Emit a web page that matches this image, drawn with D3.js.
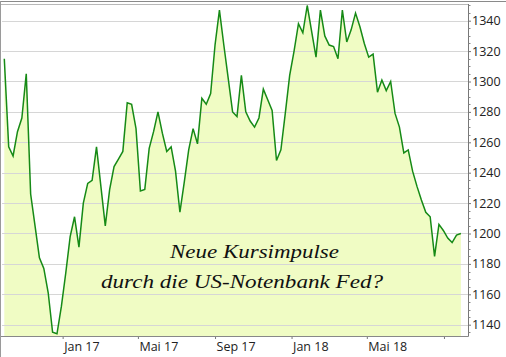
<!DOCTYPE html>
<html>
<head>
<meta charset="utf-8">
<script src="https://cdn.jsdelivr.net/npm/d3@7"></script>
<style>
  html, body { margin: 0; padding: 0; background: #fff; }
  svg { display: block; }
</style>
</head>
<body>
<svg id="chart" width="506" height="357"></svg>
<script>
// ---- data (weekly closes) ----
const startDate = "2016-09-30";
const values = [
  1315, 1257, 1251, 1267, 1276, 1305, 1226, 1205, 1184, 1177,
  1161, 1135, 1134, 1152, 1174, 1198, 1211, 1191, 1220, 1233,
  1235, 1257, 1231, 1205, 1229, 1244, 1249, 1254, 1286, 1285,
  1269, 1228, 1229, 1256, 1267, 1280, 1266, 1254, 1257, 1241,
  1214, 1234, 1255, 1269, 1259, 1289, 1285, 1292, 1324, 1347,
  1324, 1302, 1280, 1277, 1304, 1280, 1274, 1270, 1276, 1295,
  1288, 1281, 1248, 1255, 1279, 1304, 1320, 1338, 1332, 1350,
  1333, 1316, 1347, 1330, 1324, 1323, 1315, 1347, 1326, 1334,
  1345, 1336, 1325, 1316, 1318, 1293, 1301, 1294, 1300, 1279,
  1270, 1253, 1255, 1241, 1231, 1222, 1214, 1211, 1185, 1206,
  1202, 1197, 1194, 1199, 1200
];
const xTickDates = ["2017-01-01", "2017-05-01", "2017-09-01", "2018-01-01", "2018-05-01", "2018-09-01"];
const xTickLabels = ["Jan 17", "Mai 17", "Sep 17", "Jan 18", "Mai 18", ""];
const yTicks = [1140, 1160, 1180, 1200, 1220, 1240, 1260, 1280, 1300, 1320, 1340];
const annotation = ["Neue Kursimpulse", "durch die US-Notenbank Fed?"];

// ---- layout ----
const svg = d3.select("#chart");
const plot = { left: 1, right: 468, top: 4, bottom: 336 };

const parse = d3.utcParse("%Y-%m-%d");
const t0 = parse(startDate);
const data = values.map((v, i) => ({ date: d3.utcDay.offset(t0, 7 * i), value: v }));

const x = d3.scaleUtc()
  .domain([data[0].date, data[data.length - 1].date])
  .range([4.3, 460.9]);

const y = d3.scaleLinear()
  .domain([1140, 1340])
  .range([324.7, 20.7]);

// background
svg.append("rect").attr("x", 0).attr("y", 0).attr("width", 506).attr("height", 357).attr("fill", "#fff");

// outer frame lines (top / left)
svg.append("line").attr("x1", 0).attr("x2", 506).attr("y1", 1.5).attr("y2", 1.5)
  .attr("stroke", "#8a8a8a").attr("stroke-width", 1);
svg.append("line").attr("x1", 0.5).attr("x2", 0.5).attr("y1", 1).attr("y2", 357)
  .attr("stroke", "#9a9a9a").attr("stroke-width", 1);
svg.append("line").attr("x1", plot.left).attr("x2", plot.right).attr("y1", plot.top + 0.5).attr("y2", plot.top + 0.5)
  .attr("stroke", "#b8b8b8").attr("stroke-width", 1);

// area fill
const area = d3.area()
  .x(d => x(d.date))
  .y0(plot.bottom)
  .y1(d => y(d.value));
svg.append("path").datum(data)
  .attr("d", area)
  .attr("fill", "#f0fcc4");

// gridlines
svg.append("g").selectAll("line").data(yTicks).join("line")
  .attr("x1", plot.left + 1).attr("x2", plot.right)
  .attr("y1", d => Math.round(y(d)) + 0.5).attr("y2", d => Math.round(y(d)) + 0.5)
  .attr("stroke", "#d6d6d6").attr("stroke-width", 1.2);

// line
const line = d3.line()
  .x(d => x(d.date))
  .y(d => y(d.value));
svg.append("path").datum(data)
  .attr("d", line)
  .attr("fill", "none")
  .attr("stroke", "#168a16")
  .attr("stroke-width", 1.5)
  .attr("stroke-linejoin", "miter");

// right axis
const yAxis = d3.axisRight(y).tickValues(yTicks).tickSize(3).tickPadding(1).tickFormat(d3.format("d"));
const gy = svg.append("g").attr("transform", `translate(${plot.right},0)`).call(yAxis);
gy.select(".domain").remove();
gy.selectAll(".tick line").attr("stroke", "#777");
gy.selectAll(".tick text")
  .attr("font-family", "'Open Sans', sans-serif").attr("font-size", "12.5px").attr("fill", "#222");
svg.append("line").attr("x1", plot.right + 0.5).attr("x2", plot.right + 0.5)
  .attr("y1", plot.top).attr("y2", plot.bottom + 0.5)
  .attr("stroke", "#777").attr("stroke-width", 1);
// minor ticks every 5
const minor = d3.range(1135, 1351, 5).filter(v => v % 20 !== 0);
svg.append("g").selectAll("line").data(minor).join("line")
  .attr("x1", plot.right + 0.5).attr("x2", plot.right + 2.5)
  .attr("y1", d => Math.round(y(d)) + 0.5).attr("y2", d => Math.round(y(d)) + 0.5)
  .attr("stroke", "#888").attr("stroke-width", 1);

// bottom axis
const tickDates = xTickDates.map(parse);
const xAxis = d3.axisBottom(x).tickValues(tickDates).tickSize(3).tickPadding(3)
  .tickFormat((d, i) => xTickLabels[i]);
const gx = svg.append("g").attr("transform", `translate(0,${plot.bottom})`).call(xAxis);
gx.select(".domain").remove();
gx.selectAll(".tick line").attr("stroke", "#777");
gx.selectAll(".tick text")
  .attr("text-anchor", "start").attr("x", 1)
  .attr("font-family", "'Open Sans', sans-serif").attr("font-size", "12.5px").attr("fill", "#222");
svg.append("line").attr("x1", plot.left).attr("x2", plot.right + 0.5)
  .attr("y1", plot.bottom + 0.5).attr("y2", plot.bottom + 0.5)
  .attr("stroke", "#888").attr("stroke-width", 1);

// annotation
const ann = [
  { text: annotation[0], x: 170, y: 258, w: 169 },
  { text: annotation[1], x: 101, y: 288, w: 282 }
];
svg.append("g").selectAll("text").data(ann).join("text")
  .attr("x", d => d.x).attr("y", d => d.y)
  .attr("textLength", d => d.w).attr("lengthAdjust", "spacingAndGlyphs")
  .attr("font-family", "'Liberation Serif', serif").attr("font-style", "italic")
  .attr("font-size", "19px").attr("fill", "#111")
  .text(d => d.text);
</script>
</body>
</html>
